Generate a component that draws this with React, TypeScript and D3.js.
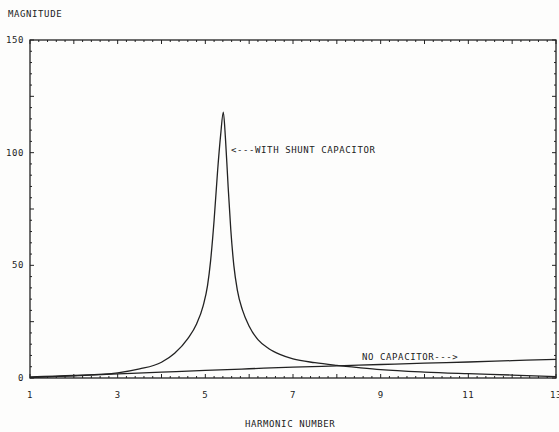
import React from 'react';
import * as d3 from 'd3';

// harmonic numbers / magnitudes
const shuntH = [1, 2, 3, 3.5, 4, 4.3, 4.6, 4.8, 4.95, 5.05, 5.12, 5.2, 5.28, 5.35, 5.41, 5.46, 5.52, 5.58, 5.65, 5.73, 5.85, 6.0, 6.2, 6.45, 6.7, 7.0, 7.5, 8, 8.5, 9, 10, 11, 12, 13];
const shuntMag = [0.5, 1.1, 2.3, 4.0, 7, 11, 17.5, 24, 32, 41, 52, 70, 92, 108, 118, 106, 85, 66, 50, 39, 30, 23, 17, 13, 10.5, 8.5, 6.8, 5.6, 4.6, 3.7, 2.6, 1.9, 1.3, 0.6];

const noCapH = [1, 2, 3, 4, 5, 6, 7, 8, 9, 10, 11, 12, 13];
const noCapMag = [0.2, 1.0, 1.8, 2.6, 3.4, 4.1, 4.8, 5.4, 6.0, 6.6, 7.1, 7.7, 8.3];

const xTickLabels = [1, 3, 5, 7, 9, 11, 13];
const yTickLabels = [0, 50, 100, 150];

const W = 559;
const H = 432;
const ink = '#222';
const font = '"DejaVu Sans Mono", monospace';

export default function App() {
  const x = d3.scaleLinear().domain([1, 13]).range([30, 556]);
  const y = d3.scaleLinear().domain([0, 150]).range([378, 40]);

  const line = d3.line<[number, number]>()
    .x(d => x(d[0]))
    .y(d => y(d[1]))
    .curve(d3.curveMonotoneX);

  const shunt = shuntH.map((h, i) => [h, shuntMag[i]] as [number, number]);
  const noCap = noCapH.map((h, i) => [h, noCapMag[i]] as [number, number]);

  const xMinor = d3.range(1, 13.001, 0.2);
  const yMinor = d3.range(0, 150.001, 5);

  const x0 = x(1), x1 = x(13), y0 = y(0), y1 = y(150);

  const txt = { fontFamily: font, fontSize: 9, fill: ink, letterSpacing: 0.6 } as const;

  return (
    <svg width={W} height={H} style={{ position: 'absolute', left: 0, top: 0, background: '#fdfdfc' }}>
      {/* frame */}
      <rect x={x0} y={y1} width={x1 - x0} height={y0 - y1} fill="none" stroke={ink} strokeWidth={1.3} />

      {/* x ticks top & bottom */}
      {xMinor.map((v, i) => {
        const major = Math.abs(v - Math.round(v)) < 1e-6;
        const len = major ? 4 : 2;
        return (
          <g key={'xt' + i} stroke={ink} strokeWidth={1}>
            <line x1={x(v)} x2={x(v)} y1={y0} y2={y0 - len} />
            <line x1={x(v)} x2={x(v)} y1={y1} y2={y1 + len} />
          </g>
        );
      })}

      {/* y ticks left & right */}
      {yMinor.map((v, i) => {
        const major = v % 25 === 0;
        const len = major ? 4 : 2;
        return (
          <g key={'yt' + i} stroke={ink} strokeWidth={1}>
            <line x1={x0} x2={x0 + len} y1={y(v)} y2={y(v)} />
            <line x1={x1} x2={x1 - len} y1={y(v)} y2={y(v)} />
          </g>
        );
      })}

      {/* tick labels */}
      {xTickLabels.map(v => (
        <text key={'xl' + v} x={x(v)} y={398} textAnchor="middle" {...txt}>{v}</text>
      ))}
      {yTickLabels.map(v => (
        <text key={'yl' + v} x={24} y={y(v) + 3} textAnchor="end" {...txt}>{v}</text>
      ))}

      {/* curves */}
      <path d={line(shunt) || ''} fill="none" stroke={ink} strokeWidth={1.3} />
      <path d={line(noCap) || ''} fill="none" stroke={ink} strokeWidth={1.3} />

      {/* annotations */}
      <text x={231} y={y(101) + 3} {...txt}>{'<---WITH SHUNT CAPACITOR'}</text>
      <text x={362} y={y(9.5) + 3} {...txt}>{'NO CAPACITOR--->'}</text>

      {/* axis titles */}
      <text x={8} y={17} {...txt}>MAGNITUDE</text>
      <text x={245} y={427} {...txt}>HARMONIC NUMBER</text>
    </svg>
  );
}
